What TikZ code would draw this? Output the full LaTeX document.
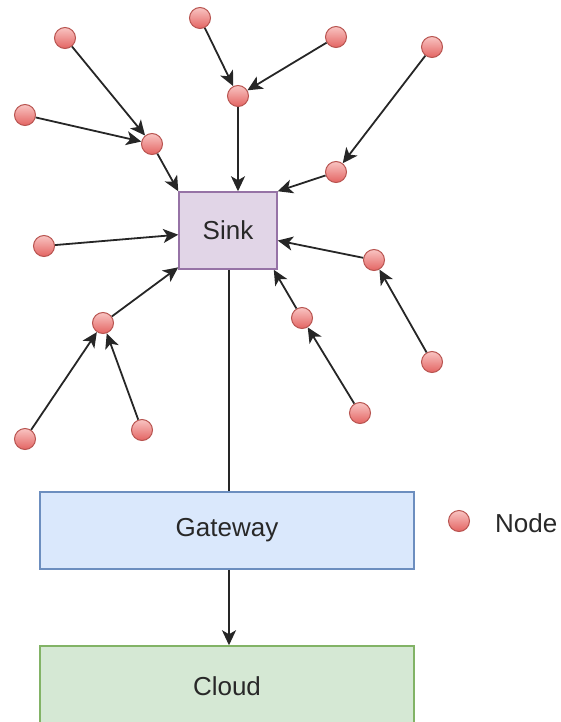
\documentclass[tikz,border=0pt]{standalone}
\usepackage{fontspec}
\setmainfont{Liberation Sans}
\usetikzlibrary{arrows.meta,calc}
\definecolor{sinkfill}{RGB}{225,213,231}
\definecolor{sinkline}{RGB}{150,115,166}
\definecolor{gwfill}{RGB}{218,232,252}
\definecolor{gwline}{RGB}{108,142,191}
\definecolor{cloudfill}{RGB}{213,232,212}
\definecolor{cloudline}{RGB}{130,179,102}
\definecolor{dottop}{RGB}{248,196,194}
\definecolor{dotbot}{RGB}{228,100,98}
\definecolor{dotline}{RGB}{184,84,80}
\definecolor{txtgray}{RGB}{40,40,40}

\begin{document}
\begin{tikzpicture}[x=1pt, y=-1pt, font=\fontsize{26}{30}\selectfont, text=txtgray,
  dot/.style={circle, draw=dotline, line width=1pt, top color=dottop, bottom color=dotbot, minimum size=21pt, inner sep=0pt},
  box/.style={rectangle, line width=1.5pt, inner sep=0pt},
  link/.style={line width=1.8pt, black!85, -{Stealth[length=15pt, width=14pt, inset=4pt]}}]
\useasboundingbox (0,0) rectangle (560,722);
% boxes
\node[box, draw=sinkline, fill=sinkfill, minimum width=98pt, minimum height=77pt] (sink) at (228,230.5) {Sink};
\node[box, draw=gwline, fill=gwfill, minimum width=374pt, minimum height=77pt] (gateway) at (227,530.5) {Gateway};
\node[box, draw=cloudline, fill=cloudfill, minimum width=374pt, minimum height=80pt] (cloud) at (227,686) {Cloud};
% sensor nodes
\node[dot] (n1) at (65,38) {};
\node[dot] (n2) at (25,115) {};
\node[dot] (n3) at (152,144) {};
\node[dot] (n4) at (200,18) {};
\node[dot] (n5) at (336,37) {};
\node[dot] (n6) at (238,96) {};
\node[dot] (n7) at (432,47) {};
\node[dot] (n8) at (336,172) {};
\node[dot] (n9) at (44,246) {};
\node[dot] (n10) at (374,260) {};
\node[dot] (n11) at (103,323) {};
\node[dot] (n12) at (25,439) {};
\node[dot] (n13) at (142,430) {};
\node[dot] (n14) at (302,318) {};
\node[dot] (n15) at (360,413) {};
\node[dot] (n16) at (432,362) {};
% links
\draw[link] (n1) -- (n3);
\draw[link] (n2) -- (n3);
\draw[link] (n3) -- (sink.north west);
\draw[link] (n4) -- (n6);
\draw[link] (n5) -- (n6);
\draw[link] (n6) -- (n6 |- sink.north);
\draw[link] (n7) -- (n8);
\draw[link] (n8) -- (sink.north east);
\draw[link] (n9) -- (sink);
\draw[link] (n16) -- (n10);
\draw[link] (n10) -- (sink);
\draw[link] (n12) -- (n11);
\draw[link] (n13) -- (n11);
\draw[link] (n11) -- (sink);
\draw[link] (n15) -- (n14);
\draw[link] (n14) -- ($(sink.south east)+(-4,0)$);
% uplink
\draw[line width=1.8pt, black!85] ($(sink.south)+(1,0)$) -- ($(sink.south |- gateway.north)+(1,0)$);
\draw[link] ($(sink.south |- gateway.south)+(1,0)$) -- ($(sink.south |- cloud.north)+(1,0)$);
% legend
\node[dot] (key) at (459,521) {};
\node[anchor=west, inner sep=0pt] (keytext) at (495,523) {Node};
\end{tikzpicture}
\end{document}
